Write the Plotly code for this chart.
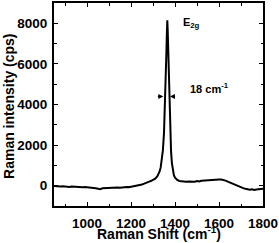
import plotly.graph_objects as go

shift = [850, 860, 870, 880, 890, 900, 910, 920, 930, 940, 950, 960, 970, 980, 990,
         1000, 1010, 1020, 1030, 1040, 1050, 1060, 1070, 1080, 1090, 1100, 1110, 1120,
         1130, 1140, 1150, 1160, 1170, 1180, 1190, 1200, 1210, 1220, 1230, 1240, 1250,
         1260, 1270, 1280, 1290, 1300, 1310, 1320, 1325, 1330, 1335, 1340, 1345, 1350,
         1355, 1358, 1361, 1363, 1365, 1367, 1369, 1372, 1375, 1378, 1382, 1386, 1390,
         1395, 1400, 1405, 1410, 1420, 1430, 1440, 1450, 1460, 1470, 1480, 1490, 1500,
         1510, 1520, 1530, 1540, 1550, 1560, 1570, 1580, 1590, 1600, 1610, 1620, 1630,
         1640, 1650, 1660, 1670, 1680, 1690, 1700, 1710, 1720, 1730, 1740, 1750, 1760,
         1770, 1780, 1790, 1800]
intensity = [-10, -30, -20, -40, -30, -50, -40, -60, -45, -55, -70, -60, -55, -75, -65,
             -70, -80, -100, -110, -130, -150, -170, -130, -120, -100, -95, -85, -95,
             -75, -85, -95, -75, -85, -60, -70, -50, -40, -20, 0, 30, 60,
             100, 160, 190, 230, 280, 350, 470, 560, 700, 900, 1250, 1750, 2600,
             4000, 5200, 6600, 7500, 8150, 7600, 6700, 5000, 3700, 2600, 1700, 1100, 750,
             520, 400, 330, 280, 230, 210, 200, 190, 210, 200, 220, 200, 230,
             210, 240, 250, 270, 260, 290, 310, 320, 330, 310, 300, 280, 250,
             200, 150, 100, 50, 0, -50, -80, -120, -150, -170, -200, -180, -210,
             -190, -170, -180, -150]

x_ticks = [1000, 1200, 1400, 1600, 1800]
y_ticks = [0, 2000, 4000, 6000, 8000]

FONT = "Arial, Liberation Sans, sans-serif"
title_font = dict(family=FONT, size=14, color="black", weight="bold")
note_font = dict(family=FONT, size=11, color="black", weight="bold")

fig = go.Figure()
fig.add_trace(go.Scatter(x=shift, y=intensity, mode="lines",
                         line=dict(color="black", width=2), showlegend=False))

axis_common = dict(showline=True, linecolor="black", linewidth=2, mirror="ticks",
                   ticks="inside", ticklen=4, tickwidth=1, tickcolor="black",
                   showgrid=False, zeroline=False,
                   tickfont=dict(family=FONT, size=13.5, color="black", weight="bold"))

fig.update_xaxes(range=[850, 1800], tickvals=x_ticks, ticklabelstandoff=4,
                 minor=dict(dtick=100, ticks="inside", ticklen=2.5, tickcolor="black"),
                 **axis_common)
fig.update_yaxes(range=[-1000, 9000], tickvals=y_ticks, ticklabelstandoff=2,
                 minor=dict(dtick=1000, ticks="inside", ticklen=2.5, tickcolor="black"),
                 **axis_common)

# axis titles
fig.add_annotation(x=0.5, y=-0.135, xref="paper", yref="paper",
                   text="Raman Shift (cm<sup>-1</sup>)", showarrow=False,
                   xanchor="center", yanchor="middle", font=title_font)
fig.add_annotation(x=-0.218, y=0.49, xref="paper", yref="paper",
                   text="Raman intensity (cps)", showarrow=False, textangle=-90,
                   xanchor="center", yanchor="middle", font=title_font)

fig.add_annotation(x=1425, y=8000, xref="x", yref="y", text="E<sub>2g</sub>",
                   showarrow=False, xanchor="left", yanchor="middle", font=note_font)
fig.add_annotation(x=1460, y=4800, xref="x", yref="y", text="18 cm<sup>-1</sup>",
                   showarrow=False, xanchor="left", yanchor="middle", font=note_font)
fig.add_annotation(x=1347, y=4400, ax=1315, ay=4400, xref="x", yref="y",
                   axref="x", ayref="y", text="", showarrow=True,
                   arrowhead=2, arrowsize=1, arrowwidth=1, arrowcolor="black")
fig.add_annotation(x=1377, y=4400, ax=1407, ay=4400, xref="x", yref="y",
                   axref="x", ayref="y", text="", showarrow=True,
                   arrowhead=2, arrowsize=1, arrowwidth=1, arrowcolor="black")

fig.update_layout(width=279, height=243, margin=dict(l=54, r=16, t=1, b=37),
                  plot_bgcolor="white", paper_bgcolor="white")

fig.write_html("out.html", config={"displayModeBar": False},
               post_script="document.body.style.margin='0';document.body.style.overflow='hidden';")
